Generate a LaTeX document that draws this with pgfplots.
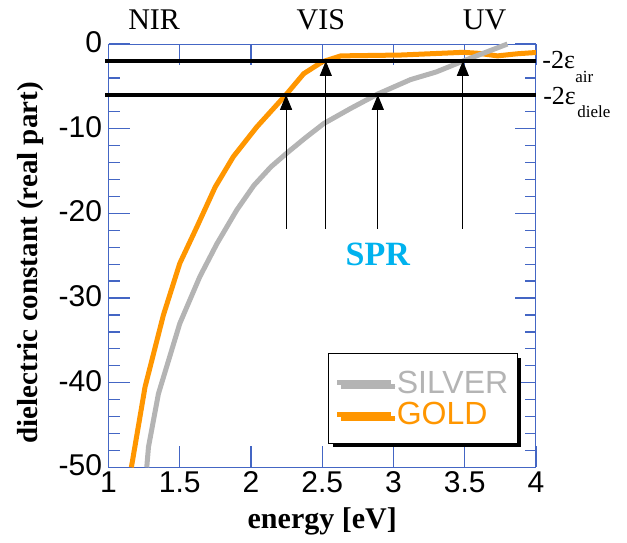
\documentclass[border=0pt]{standalone}
\usepackage{pgfplots}
\pgfplotsset{compat=1.18}
\usepackage{fontspec}
\setmainfont{Liberation Serif}
\newfontfamily\sansf{Liberation Sans}
\usetikzlibrary{arrows.meta,shadows}
\definecolor{axblue}{RGB}{68,102,196}
\definecolor{silv}{RGB}{180,180,180}
\definecolor{goldc}{RGB}{255,150,0}
\definecolor{sprblue}{RGB}{0,178,238}
\begin{document}
\begin{tikzpicture}
\begin{axis}[name=ax, scale only axis, width=427pt, height=423pt,
  xmin=1, xmax=4, ymin=-50, ymax=0,
  clip=false,
  axis line style={draw=axblue, line width=1pt},
  major tick style={draw=axblue, line width=1.3pt},
  minor tick style={draw=axblue, line width=1.3pt},
  major tick length=21pt, minor tick length=11pt,
  xtick={1,1.5,2,2.5,3,3.5,4}, xticklabels={1,1.5,2,2.5,3,3.5,4},
  ytick={-50,-40,-30,-20,-10,0}, yticklabels={-50,-40,-30,-20,-10,0},
  minor ytick={-48,-46,-44,-42,-38,-36,-34,-32,-28,-26,-24,-22,-18,-16,-14,-12,-8,-6,-4,-2},
  ticklabel style={font=\sansf\fontsize{30}{36}\selectfont, text=black},
  xticklabel style={yshift=-1pt},
  yticklabel style={xshift=-3pt, yshift=2pt},
  xlabel={energy [eV]},
  ylabel={dielectric constant (real part)},
  xlabel style={at={(axis description cs:0.5,-0.144)}, anchor=base, font=\bfseries\fontsize{30}{36}\selectfont},
  ylabel style={at={(axis description cs:-0.167,0.483)}, anchor=base, font=\bfseries\fontsize{29}{34}\selectfont},
  legend style={at={(axis cs:2.541,-36.5)}, anchor=north west, draw=black, line width=1.2pt, fill=white,
    drop shadow={shadow xshift=4pt, shadow yshift=-4pt, fill=black, opacity=1},
    font=\sansf\fontsize{32}{34}\selectfont, inner xsep=6pt, inner ysep=14pt, row sep=2pt,
    nodes={inner sep=3pt}},
  legend cell align=left,
  legend image code/.code={\draw[#1] (0pt,0pt) -- (54pt,0pt);},
]
\addplot[goldc, line width=5pt, forget plot] coordinates {
(1.16,-50) (1.256,-40.5) (1.385,-32) (1.50,-25.9) (1.62,-21.6) (1.748,-16.9)
(1.876,-13.3) (2.04,-9.8) (2.25,-5.9) (2.37,-3.5) (2.50,-2.1) (2.63,-1.4)
(3.05,-1.3) (3.49,-0.98) (3.60,-1.1) (3.73,-1.4) (3.87,-1.15) (4.0,-1.0)};
\addplot[silv, line width=5pt, forget plot] coordinates {
(1.268,-50) (1.28,-47.6) (1.35,-41.3) (1.50,-33) (1.64,-27.5) (1.76,-23.6)
(1.90,-19.6) (2.02,-16.7) (2.14,-14.5) (2.25,-12.9) (2.38,-11.1) (2.51,-9.4) (2.70,-7.6) (2.89,-5.9)
(3.12,-4.2) (3.30,-3.3) (3.49,-2.0) (3.66,-0.9) (3.80,0)};
\addplot[black, line width=4.5pt, forget plot] coordinates {(0.975,-2) (4,-2)};
\addplot[black, line width=4.5pt, forget plot] coordinates {(0.975,-6) (4,-6)};
\addplot[black, line width=1pt, -{Triangle[width=12pt,length=15pt]}, forget plot] coordinates {(2.246,-21.8) (2.246,-6)};
\addplot[black, line width=1pt, -{Triangle[width=12pt,length=15pt]}, forget plot] coordinates {(2.525,-21.8) (2.525,-2)};
\addplot[black, line width=1pt, -{Triangle[width=12pt,length=15pt]}, forget plot] coordinates {(2.89,-21.8) (2.89,-6)};
\addplot[black, line width=1pt, -{Triangle[width=12pt,length=15pt]}, forget plot] coordinates {(3.487,-21.8) (3.487,-2)};
\addlegendimage{silv, line width=5pt}
\addlegendentry{\textcolor{silv}{SILVER}}
\addlegendimage{goldc, line width=5pt}
\addlegendentry{\textcolor{goldc}{GOLD}}
\node[font=\fontsize{30}{36}\selectfont, anchor=base] at (axis cs:1.32,1.7) {NIR};
\node[font=\fontsize{30}{36}\selectfont, anchor=base] at (axis cs:2.49,1.7) {VIS};
\node[font=\fontsize{30}{36}\selectfont, anchor=base] at (axis cs:3.64,1.7) {UV};
\node[font=\bfseries\fontsize{34}{40}\selectfont, text=sprblue] at (axis cs:2.89,-24.9) {SPR};
\node[anchor=base west, font=\fontsize{26}{30}\selectfont, inner sep=0pt] at (axis cs:4.044,-2.84) {-2ε};
\node[anchor=base west, font=\fontsize{17}{20}\selectfont, inner sep=0pt] at (axis cs:4.276,-4.6) {air};
\node[anchor=base west, font=\fontsize{26}{30}\selectfont, inner sep=0pt] at (axis cs:4.05,-7.2) {-2ε};
\node[anchor=base west, font=\fontsize{17}{20}\selectfont, inner sep=0pt] at (axis cs:4.29,-8.63) {diele};
\end{axis}
\path[use as bounding box] ([xshift=-108.5pt,yshift=-75pt]ax.south west) rectangle ([xshift=91pt,yshift=44pt]ax.north east);
\end{tikzpicture}
\end{document}
